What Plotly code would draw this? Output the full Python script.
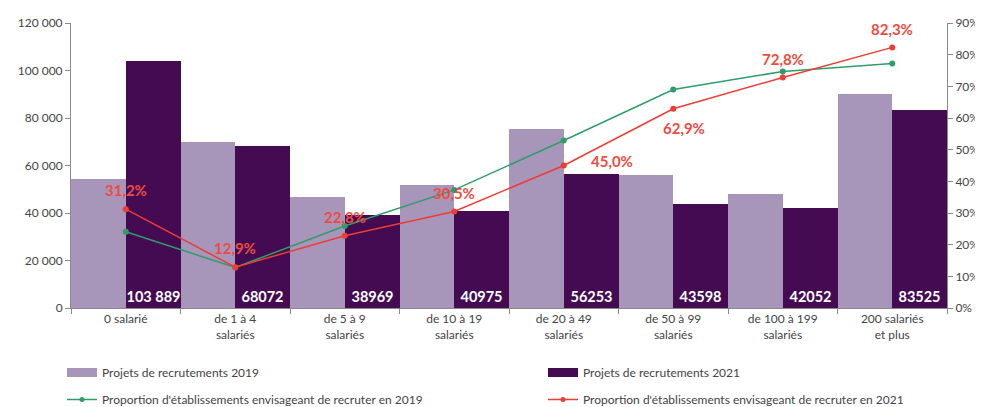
import plotly.graph_objects as go

categories = ["0 salarié", "de 1 à 4<br>salariés", "de 5 à 9<br>salariés", "de 10 à 19<br>salariés",
              "de 20 à 49<br>salariés", "de 50 à 99<br>salariés", "de 100 à 199<br>salariés",
              "200 salariés<br>et plus"]
projets_2019 = [54200, 69900, 46600, 51800, 75200, 56000, 47900, 90300]
projets_2021 = [103889, 68072, 38969, 40975, 56253, 43598, 42052, 83525]
labels_2021 = ["103 889", "68072", "38969", "40975", "56253", "43598", "42052", "83525"]
prop_2019 = [24.1, 12.8, 25.9, 37.3, 52.9, 69.0, 74.7, 77.2]
prop_2021 = [31.2, 12.9, 22.8, 30.5, 45.0, 62.9, 72.8, 82.3]
y_ticks_left = [0, 20000, 40000, 60000, 80000, 100000, 120000]
y_ticks_right = [0, 10, 20, 30, 40, 50, 60, 70, 80, 90]
y_ticktext_right = [f"{v}%" for v in y_ticks_right]

C_LIGHT = "#a895ba"
C_DARK = "#440b52"
C_GREEN = "#2f9c6a"
C_RED = "#ee3d35"
C_LABEL = "#ef4b40"
FONT = "Lato"
AX = "#8a8a8a"
TXT = "#444444"

# page body has an 8px margin: figure is sized/placed to compensate
W, H = 975, 399

fig = go.Figure()
fig.add_trace(go.Bar(x=categories, y=projets_2019, marker=dict(color=C_LIGHT, line=dict(width=0)),
                     name="Projets de recrutements 2019", showlegend=False, offsetgroup="a"))
fig.add_trace(go.Bar(x=categories, y=projets_2021, marker=dict(color=C_DARK, line=dict(width=0)),
                     name="Projets de recrutements 2021", showlegend=False, offsetgroup="b",
                     text=labels_2021, textposition="inside", insidetextanchor="start",
                     textangle=0, constraintext="none",
                     textfont=dict(family=FONT, size=14.5, color="white", weight="bold")))
fig.add_trace(go.Scatter(x=categories, y=prop_2019, yaxis="y2", mode="lines+markers",
                         line=dict(color=C_GREEN, width=1.5), marker=dict(size=6, color=C_GREEN),
                         showlegend=False))
fig.add_trace(go.Scatter(x=categories, y=prop_2021, yaxis="y2", mode="lines+markers",
                         line=dict(color=C_RED, width=1.5), marker=dict(size=6, color=C_RED),
                         showlegend=False))

# legend-only entries, one legend per entry (2 x 2 grid)
fig.add_trace(go.Scatter(x=[None], y=[None], mode="lines", line=dict(color=C_LIGHT, width=9),
                         name="Projets de recrutements 2019", legend="legend"))
fig.add_trace(go.Scatter(x=[None], y=[None], mode="lines", line=dict(color=C_DARK, width=9),
                         name="Projets de recrutements 2021", legend="legend2"))
fig.add_trace(go.Scatter(x=[None], y=[None], mode="lines+markers", line=dict(color=C_GREEN, width=1.5),
                         marker=dict(size=5, color=C_GREEN), legend="legend3",
                         name="Proportion d'établissements envisageant de recruter en 2019"))
fig.add_trace(go.Scatter(x=[None], y=[None], mode="lines+markers", line=dict(color=C_RED, width=1.5),
                         marker=dict(size=5, color=C_RED), legend="legend4",
                         name="Proportion d'établissements envisageant de recruter en 2021"))

# percentage labels for 2021
shifts = [(0, 19), (0, 19), (0, 19), (0, 18), (48, 5), (11, -19), (0, 18), (0, 18)]
for c, v, (dx, dy) in zip(categories, prop_2021, shifts):
    fig.add_annotation(x=c, y=v, yref="y2", text="<b>" + f"{v:.1f}".replace(".", ",") + "%</b>",
                       showarrow=False, xshift=dx, yshift=dy,
                       font=dict(family=FONT, size=15, color=C_LABEL))

leg_common = dict(orientation="h", xref="container", yref="container", xanchor="left", yanchor="top",
                  font=dict(family=FONT, size=12, color=TXT), bgcolor="rgba(0,0,0,0)", itemwidth=30)
LX1, LX2 = 54, 535
LY1, LY2 = 350, 377

fig.update_layout(
    width=W, height=H, autosize=False,
    margin=dict(l=63, r=36, t=15, b=99, autoexpand=False),
    paper_bgcolor="white", plot_bgcolor="white",
    separators=", ",
    barmode="group", bargap=0, bargroupgap=0,
    font=dict(family=FONT, size=12, color=TXT),
    xaxis=dict(type="category", tickson="boundaries", ticks="outside", ticklen=5, tickcolor=AX,
               showline=True, linecolor=AX, linewidth=1, showgrid=False, automargin=False,
               tickfont=dict(family=FONT, size=12, color=TXT)),
    yaxis=dict(range=[0, 120000], tickvals=y_ticks_left, tickformat=",d", ticks="outside",
               ticklen=5, tickcolor=AX, showline=True, linecolor=AX, showgrid=False, zeroline=False,
               automargin=False, tickfont=dict(family=FONT, size=12, color=TXT)),
    yaxis2=dict(range=[0, 90], tickmode="array", tickvals=y_ticks_right, ticktext=y_ticktext_right,
                overlaying="y", side="right", automargin=False,
                ticks="outside", ticklen=5, tickcolor=AX, showline=True, linecolor=AX,
                showgrid=False, zeroline=False, tickfont=dict(family=FONT, size=12, color=TXT)),
    legend=dict(x=LX1 / W, y=1 - LY1 / H, **leg_common),
    legend2=dict(x=LX2 / W, y=1 - LY1 / H, **leg_common),
    legend3=dict(x=LX1 / W, y=1 - LY2 / H, **leg_common),
    legend4=dict(x=LX2 / W, y=1 - LY2 / H, **leg_common),
    showlegend=True,
)

fig.write_html("out.html")
